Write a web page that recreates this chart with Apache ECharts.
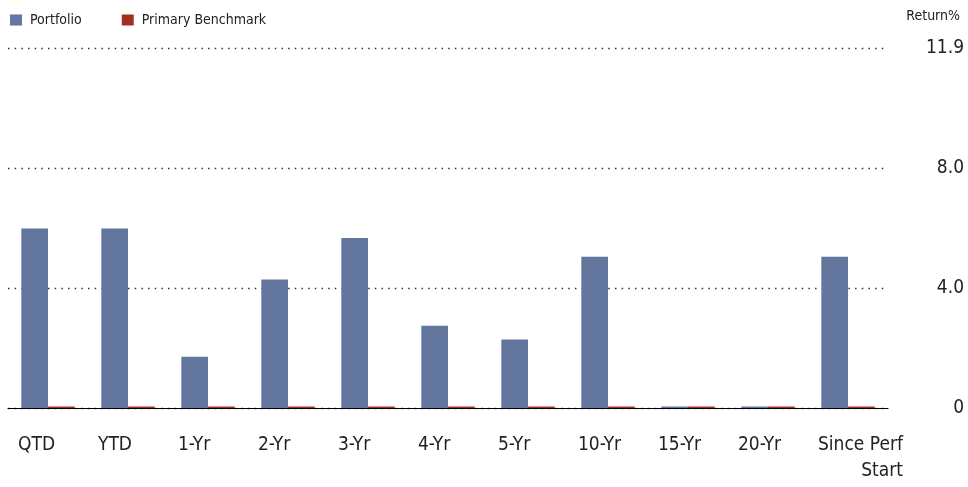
<!DOCTYPE html>
<html>
<head>
<meta charset="utf-8">
<script src="https://cdn.jsdelivr.net/npm/echarts@6/dist/echarts.min.js"></script>
<style>
  html, body { margin: 0; padding: 0; background: #fff; }
  #chart { width: 968px; height: 487px; }
</style>
</head>
<body>
<div id="chart"></div>
<script>
const categories = ['QTD', 'YTD', '1-Yr', '2-Yr', '3-Yr', '4-Yr', '5-Yr', '10-Yr', '15-Yr', '20-Yr', 'Since Perf Start'];
const portfolio = [5.98, 5.98, 1.71, 4.28, 5.67, 2.74, 2.28, 5.04, 0, 0, 5.04];
const benchmark = [0, 0, 0, 0, 0, 0, 0, 0, 0, 0, 0];
const yTickLabels = ['0', '4.0', '8.0', '11.9'];
const seriesNames = ['Portfolio', 'Primary Benchmark'];

const FONT = "'Liberation Sans Narrow', 'DejaVu Sans Condensed', 'Roboto', sans-serif";
const TXT = '#222';

const chart = echarts.init(document.getElementById('chart'), null, { renderer: 'canvas' });
chart.setOption({
  animation: false,
  backgroundColor: '#fff',
  title: {
    text: 'Return%',
    right: 3,
    top: 4,
    textStyle: { fontFamily: FONT, fontSize: 14, fontWeight: 'normal', color: TXT }
  },
  legend: {
    left: 5,
    top: 8,
    icon: 'rect',
    itemWidth: 12,
    itemHeight: 11,
    itemGap: 40,
    textStyle: { fontFamily: FONT, fontSize: 14, color: TXT, padding: [0, 0, 0, 3] },
    data: seriesNames
  },
  grid: { left: 8, right: 80, top: 48, bottom: 79, containLabel: false },
  xAxis: {
    type: 'category',
    data: categories,
    z: 0,
    axisLine: { show: true, lineStyle: { color: '#000', width: 1.2 } },
    axisTick: { show: false },
    axisLabel: {
      interval: 0,
      align: 'left',
      margin: 24,
      padding: [0, 0, 0, -30],
      fontFamily: FONT,
      fontSize: 19,
      lineHeight: 26,
      color: TXT,
      formatter: function (v) {
        const parts = v.split(' ');
        if (parts.length > 2) {
          return '{a|' + parts.slice(0, -1).join(' ') + '}\n{b|' + parts[parts.length - 1] + '}';
        }
        return v;
      },
      rich: {
        a: { fontFamily: FONT, fontSize: 19, lineHeight: 26, color: TXT },
        b: { fontFamily: FONT, fontSize: 19, lineHeight: 26, color: TXT, align: 'right' }
      }
    },
    splitLine: { show: false }
  },
  yAxis: {
    type: 'value',
    position: 'right',
    min: 0,
    max: 12,
    interval: 4,
    axisLine: { show: false },
    axisTick: { show: false },
    axisLabel: {
      align: 'right',
      margin: 76,
      fontFamily: FONT,
      fontSize: 19,
      color: TXT,
      formatter: function (v, i) { return yTickLabels[i]; }
    },
    splitLine: { show: true, lineStyle: { color: '#333', width: 1.3, type: [1.5, 5.17] } }
  },
  series: [
    {
      name: seriesNames[0],
      type: 'bar',
      z: 5,
      data: portfolio,
      barGap: 0,
      barCategoryGap: '33.33%',
      barMinHeight: 1.5,
      itemStyle: { color: '#63769E' }
    },
    {
      name: seriesNames[1],
      type: 'bar',
      z: 5,
      data: benchmark,
      barGap: 0,
      barCategoryGap: '33.33%',
      barMinHeight: 1.5,
      itemStyle: { color: '#A1311E' }
    }
  ]
});
</script>
</body>
</html>
